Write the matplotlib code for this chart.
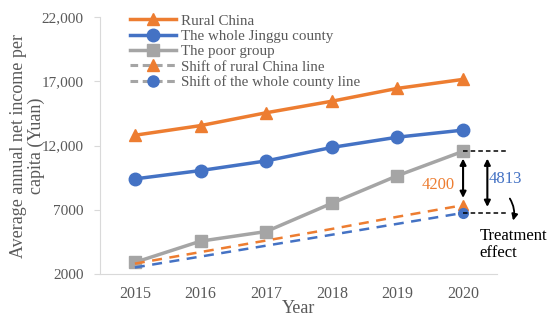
import matplotlib.pyplot as plt
from matplotlib.lines import Line2D

years = [2015, 2016, 2017, 2018, 2019, 2020]
rural_china = [12800, 13550, 14550, 15450, 16450, 17150]
jinggu_county = [9400, 10050, 10800, 11850, 12650, 13200]
poor_group = [2900, 4550, 5300, 7500, 9650, 11550]
shift_rural = [2800, 3700, 4600, 5500, 6450, 7350]
shift_county = [2500, 3350, 4200, 5050, 5900, 6750]

yticks = [2000, 7000, 12000, 17000, 22000]
ytick_labels = ['2000', '7000', '12,000', '17,000', '22,000']

plt.rcParams['font.family'] = ['Liberation Serif', 'DejaVu Serif']

orange = '#ED7D31'
blue = '#4472C4'
gray = '#A5A5A5'
txt = '#595959'

fig = plt.figure(figsize=(5.5, 3.23), dpi=100)
ax = fig.add_axes([0.182, 0.152, 0.722, 0.795])

ax.plot(years, rural_china, color=orange, lw=2.5, marker='^', ms=9)
ax.plot(years, jinggu_county, color=blue, lw=2.5, marker='o', ms=9)
ax.plot(years, poor_group, color=gray, lw=2.5, marker='s', ms=9)
ax.plot(years, shift_rural, color=orange, lw=1.8, ls=(0, (4, 3)), marker='^', ms=7,
        markevery=[5])
ax.plot(years, shift_county, color=blue, lw=1.8, ls=(0, (4, 3)), marker='o', ms=7,
        markevery=[5])

ax.set_xlim(2014.47, 2020.52)
ax.set_ylim(2000, 22000)
ax.set_xticks(years)
ax.set_yticks(yticks)
ax.set_yticklabels(ytick_labels)
ax.tick_params(axis='x', length=0, pad=9, labelsize=11.5, labelcolor=txt)
ax.tick_params(axis='y', length=4, color='#D9D9D9', pad=8, labelsize=11, labelcolor=txt)

for s in ['top', 'right']:
    ax.spines[s].set_visible(False)
for s in ['left', 'bottom']:
    ax.spines[s].set_color('#D9D9D9')

ax.set_xlabel('Year', fontsize=13, color=txt, labelpad=-2)
ax.set_ylabel('Average annual net income per\ncapita (Yuan)', fontsize=13, color=txt,
              linespacing=1.0)
ax.yaxis.set_label_coords(-0.14, 0.5)

handles = [
    Line2D([], [], color=orange, lw=2.5, marker='^', ms=9),
    Line2D([], [], color=blue, lw=2.5, marker='o', ms=9),
    Line2D([], [], color=gray, lw=2.5, marker='s', ms=9),
    Line2D([], [], color=gray, lw=2.2, ls=(0, (2.5, 1.5)), marker='^', ms=8,
           mfc=orange, mec=orange),
    Line2D([], [], color=gray, lw=2.2, ls=(0, (2.5, 1.5)), marker='o', ms=8,
           mfc=blue, mec=blue),
]
labels = ['Rural China', 'The whole Jinggu county', 'The poor group',
          'Shift of rural China line', 'Shift of the whole county line']
leg = ax.legend(handles, labels, loc='upper left', bbox_to_anchor=(0.06, 1.035),
                frameon=False, fontsize=10.8, handlelength=3.1, handletextpad=0.3,
                labelspacing=0.12, borderaxespad=0)
for t in leg.get_texts():
    t.set_color(txt)

# treatment-effect annotations
x_end = 2020.65
ax.plot([2020, x_end], [poor_group[-1]] * 2, color='black', lw=1.1, ls=(0, (3, 2)), clip_on=False)
ax.plot([2020, x_end], [shift_county[-1]] * 2, color='black', lw=1.1, ls=(0, (3, 2)), clip_on=False)
ax.annotate('', xy=(2020, shift_rural[-1] + 350), xytext=(2020, poor_group[-1] - 350),
            arrowprops=dict(arrowstyle='<|-|>', color='black', lw=1.5, mutation_scale=9))
ax.annotate('', xy=(2020.37, shift_county[-1] + 250), xytext=(2020.37, poor_group[-1] - 350),
            arrowprops=dict(arrowstyle='<|-|>', color='black', lw=1.5, mutation_scale=9),
            annotation_clip=False)
ax.text(2019.62, 8950, '4200', color=orange, fontsize=12, ha='center', va='center')
ax.text(2020.64, 9400, '4813', color=blue, fontsize=12, ha='center', va='center',
        clip_on=False)
ax.annotate('', xy=(2020.75, 5950), xytext=(2020.69, 8050),
            arrowprops=dict(arrowstyle='-|>', color='black', lw=1.3, mutation_scale=9,
                            connectionstyle='arc3,rad=-0.25'),
            annotation_clip=False)
ax.text(2020.25, 5600, 'Treatment\neffect', color='black', fontsize=12, ha='left',
        va='top', linespacing=1.1, clip_on=False)

fig.savefig('out.png', dpi=100)
